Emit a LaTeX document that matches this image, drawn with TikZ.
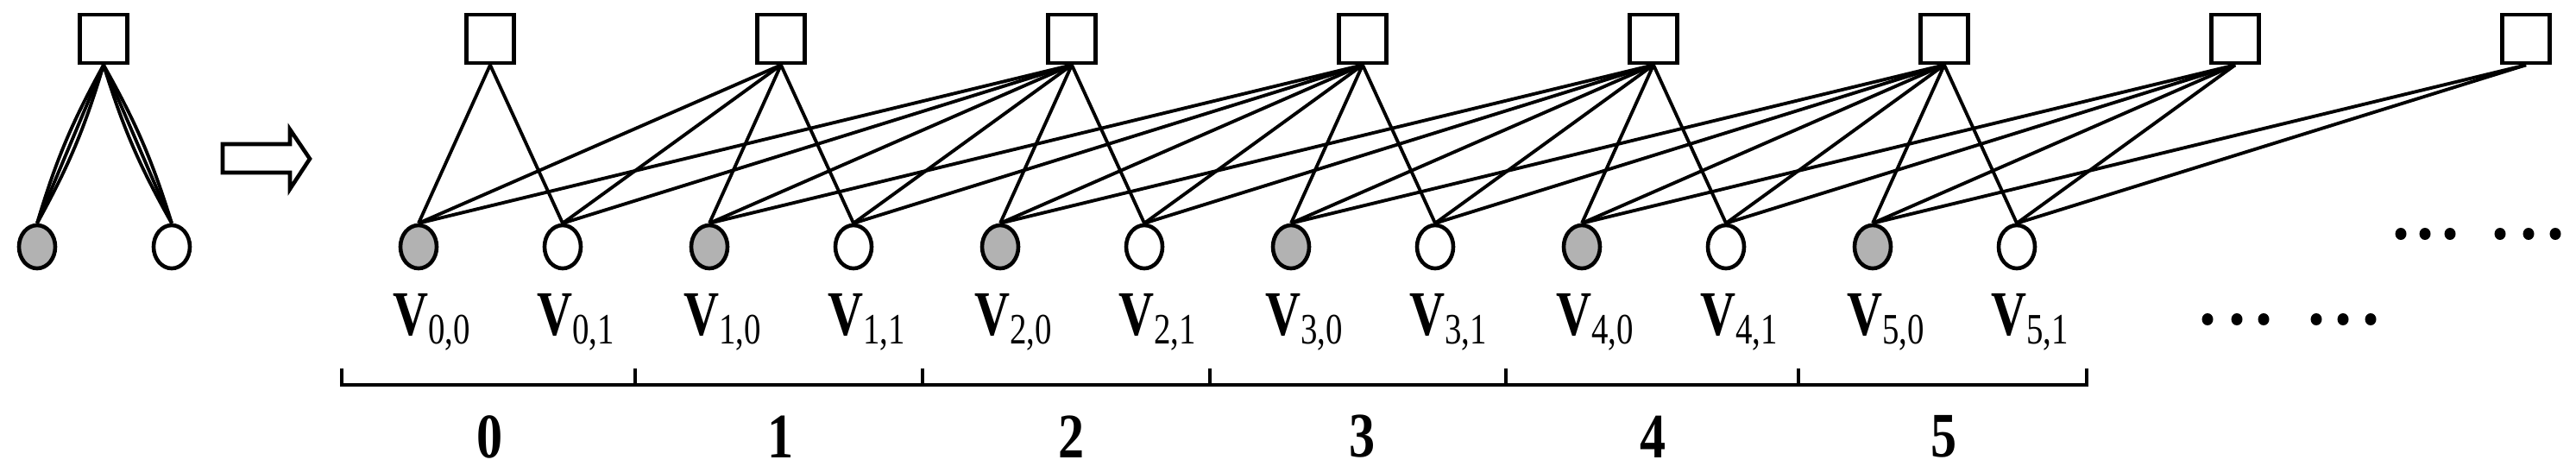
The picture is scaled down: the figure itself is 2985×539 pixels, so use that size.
\documentclass[tikz,border=0pt]{standalone}
\usepackage{fontspec}
\setmainfont{Liberation Serif}
\usetikzlibrary{shapes.geometric}
\begin{document}
\begin{tikzpicture}[x=0.01cm,y=-0.01cm,
  sq/.style={draw,line width=1.3pt,minimum width=0.55cm,minimum height=0.56cm,inner sep=0pt},
  vg/.style={draw,line width=1.3pt,ellipse,fill=gray!60,minimum width=0.42cm,minimum height=0.5cm,inner sep=0pt},
  vw/.style={vg,fill=white},
  edge/.style={line width=1.1pt},
  lab/.style={font=\fontsize{19}{19}\selectfont\bfseries,inner sep=0pt},
  num/.style={font=\fontsize{19}{19}\selectfont\bfseries,inner sep=0pt},
  dot/.style={fill=black,draw=none}]
\useasboundingbox (0,0) rectangle (2985,539);
% left small graph
\node[sq] (s) at (120,45) {};
\node[vg] (g) at (43,286) {};
\node[vw] (w) at (199,286) {};
\foreach \b in {-6,0,6} {
  \draw[edge] (s.south) to[bend left=\b] (g.north);
  \draw[edge] (s.south) to[bend right=\b] (w.north);
}
% arrow
\draw[line width=1.3pt] (258,167) -- (336,167) -- (336,150) -- (359,184) -- (336,219) -- (336,200) -- (258,200) -- cycle;
% squares
\foreach \k in {0,...,7} \node[sq] (sq\k) at ({568+337*\k},45) {};
% variable nodes
\foreach \k in {0,...,5} {
  \node[vg] (a\k) at ({485+337*\k},286) {};
  \node[vw] (b\k) at ({652+337*\k},286) {};
  \node[lab] (la\k) at ({500+337*\k},373) {\scalebox{0.85}[1.1]{V\raisebox{-0.3ex}{\fontsize{13}{13}\selectfont\mdseries\k,0}}};
  \node[lab] (lb\k) at ({667+337*\k},373) {\scalebox{0.85}[1.1]{V\raisebox{-0.3ex}{\fontsize{13}{13}\selectfont\mdseries\k,1}}};
}
% edges
\foreach \k in {0,...,7} {
  \foreach \j in {0,...,5} {
    \pgfmathtruncatemacro{\d}{\k-\j}
    \ifnum\d>-1 \ifnum\d<3
      \draw[edge] (sq\k.south) -- (a\j.north);
      \draw[edge] (sq\k.south) -- (b\j.north);
    \fi\fi
  }
}
% bracket
\draw[line width=1.3pt] (396,427) -- (396,446) -- (2418,446) -- (2418,427);
\foreach \x in {736,1069,1402,1745,2084} \draw[line width=1.3pt] (\x,427) -- (\x,446);
\foreach \k in {0,...,5} \node[num] (n\k) at ({568+337*\k},506) {\scalebox{0.9}[1.1]{\k}};
% dots
\foreach \x in {2782,2810,2839,2897,2930,2961} \fill[dot] (\x,271) ellipse (6.5 and 7);
\foreach \x in {2558,2592,2623,2684,2715,2747} \fill[dot] (\x,370) ellipse (6.5 and 7);
\end{tikzpicture}
\end{document}
